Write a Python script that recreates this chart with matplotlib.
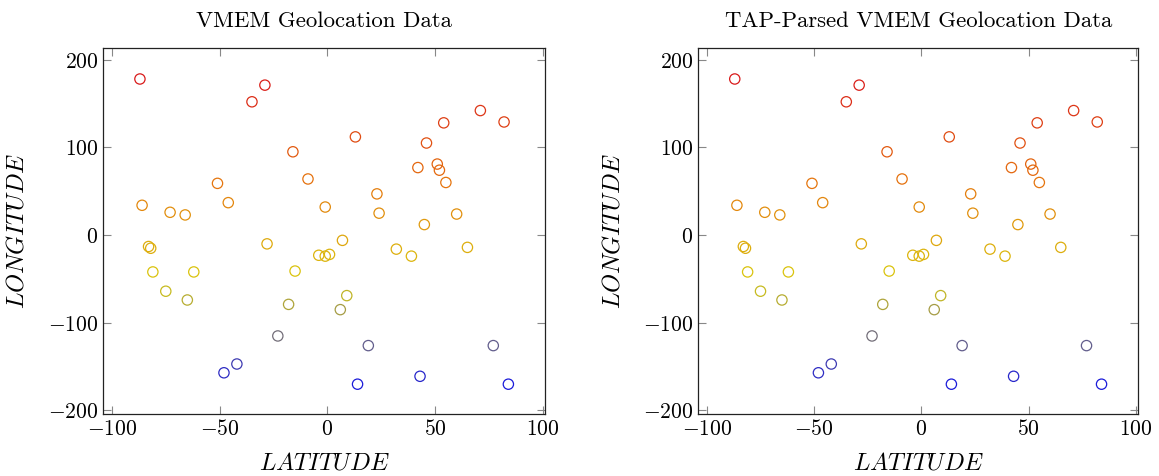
import matplotlib
matplotlib.use("Agg")
import matplotlib.pyplot as plt
from matplotlib.colors import LinearSegmentedColormap, Normalize
from matplotlib.ticker import FixedLocator, FuncFormatter

# ---- data ----
latitude = [-87, -29, -35, 71, 82, 54, 13, 46, -16, 42, 51, 52, 55, -9, -51,
            23, -86, -46, -1, -73, -66, 24, 60, 45, -83, -82, -28, 7, -4, -1,
            1, 32, 39, 65, -81, -62, -15, -75, -65, -18, 9, 6, -23, 19, 77,
            -42, -48, 14, 43, 84]
longitude = [178, 171, 152, 142, 129, 128, 112, 105, 95, 77, 81, 74, 60, 64, 59,
             47, 34, 37, 32, 26, 23, 25, 24, 12, -13, -15, -10, -6, -23, -24,
             -22, -16, -24, -14, -42, -42, -41, -64, -74, -79, -69, -85, -115, -126, -126,
             -147, -157, -170, -161, -170]
titles = ["VMEM Geolocation Data", "TAP-Parsed VMEM Geolocation Data"]
x_ticks = [-100, -50, 0, 50, 100]
y_ticks = [-200, -100, 0, 100, 200]

plt.rcParams["mathtext.fontset"] = "cm"
plt.rcParams["axes.formatter.use_mathtext"] = True

cmap = LinearSegmentedColormap.from_list(
    "pgfhot", [(0, (0.1, 0.1, 0.85)), (1/3, (0.85, 0.8, 0.05)),
               (2/3, (0.9, 0.45, 0.05)), (1, (0.85, 0.1, 0.1))])
norm = Normalize(min(longitude), max(longitude))

W, H = 1159, 476
fig = plt.figure(figsize=(W/100, H/100), dpi=100)
axes_px = [(103.3, 48.3, 545.0, 414.0), (698.3, 48.3, 1138.0, 414.0)]

fmt = FuncFormatter(lambda v, p: r"$%d$" % v if v >= 0 else r"$-%d$" % abs(v))

for (l, t, r, b), title in zip(axes_px, titles):
    ax = fig.add_axes([l/W, 1 - b/H, (r - l)/W, (b - t)/H])
    ax.scatter(latitude, longitude, s=55, facecolors="none",
               edgecolors=cmap(norm(longitude)), linewidths=0.9, zorder=3)
    ax.set_xlim(-104, 101)
    ax.set_ylim(-204, 213)
    ax.xaxis.set_major_locator(FixedLocator(x_ticks))
    ax.yaxis.set_major_locator(FixedLocator(y_ticks))
    ax.xaxis.set_major_formatter(fmt)
    ax.yaxis.set_major_formatter(fmt)
    ax.tick_params(direction="in", top=True, right=True, length=6, width=0.8,
                   color="#888888", labelsize=15.5, pad=3.5)
    for s in ax.spines.values():
        s.set_linewidth(0.9)
        s.set_color("#222222")
    ax.set_title(title, family="cmr10", fontsize=16.4, y=1.058, pad=0)
    ax.set_xlabel(r"$LATITUDE$", fontsize=17.5)
    ax.set_ylabel(r"$LONGITUDE$", fontsize=17.5)
    ax.xaxis.set_label_coords(0.5, (b - 451) / (b - t))
    ax.yaxis.set_label_coords((29 - 103.3) / (r - l), 0.5)

fig.savefig("out.png", dpi=100)
